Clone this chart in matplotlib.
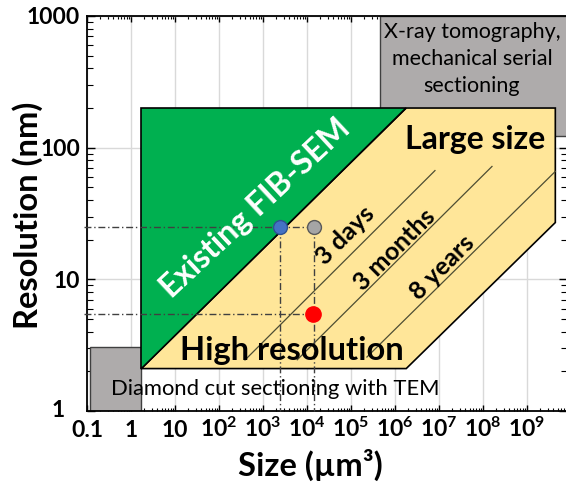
import numpy as np
import matplotlib
matplotlib.use("Agg")
import matplotlib.pyplot as plt
from matplotlib.patches import Polygon, Rectangle
from matplotlib.ticker import LogLocator, NullFormatter
from matplotlib.transforms import ScaledTranslation

plt.rcParams["font.family"] = ["Lato", "DejaVu Sans"]
plt.rcParams["mathtext.fontset"] = "custom"
plt.rcParams["mathtext.rm"] = "Lato:bold"
plt.rcParams["mathtext.it"] = "Lato:bold"
plt.rcParams["mathtext.bf"] = "Lato:bold"

# axes
x_ticks = [1e-1, 1, 1e1, 1e2, 1e3, 1e4, 1e5, 1e6, 1e7, 1e8, 1e9]
x_tick_labels = ["0.1", "1", "10"] + [r"$10^{%d}$" % p for p in range(2, 10)]
y_ticks = [1, 10, 100, 1000]
y_tick_labels = ["1", "10", "100", "1000"]

# regions: size (um3) / resolution (nm)
fib_x = [1.7, 1.7, 1.8e6]
fib_y = [2.1, 200, 200]
target_x = [1.7, 1.8e6, 4.4e9, 4.4e9, 1.8e6]
target_y = [2.1, 200, 200, 27, 2.1]
xray_x = [4.6e5, 1e10]
xray_y = [123, 1000]
tem_x = [0.12, 1.7]
tem_y = [1, 3.06]

# constant acquisition time lines
time_labels = ["3 days", "3 months", "8 years"]
time_x0 = [390, 6000, 2.3e5]
time_y0 = [2.44, 2.45, 2.57]
time_x1 = [8.1e6, 1.6e8, 4.4e9]
time_y1 = [67, 72, 66]
time_lx = [7.3e4, 1.0e6, 1.2e7]
time_ly = [21.7, 16.7, 12.4]

# example acquisitions
pt_x = [2430, 14400, 14000]
pt_y = [25, 25, 5.5]
pt_face = ["#4472C4", "#A5A5A5", "#FF0000"]
pt_edge = ["#2F528F", "#595959", "#FF0000"]
pt_size = [10, 10, 11]

fig = plt.figure(figsize=(5.66, 4.86), dpi=100)
ax = fig.add_axes([87 / 566, 75 / 486, 480 / 566, 395 / 486])
ax.set_xscale("log")
ax.set_yscale("log")
ax.set_xlim(0.1, 10 ** 9.909)
ax.set_ylim(1, 1000)
ax.set_axisbelow(True)
ax.grid(True, which="major", color="#D9D9D9", lw=1)

ax.add_patch(Rectangle((xray_x[0], xray_y[0]), xray_x[1] - xray_x[0],
                       xray_y[1] - xray_y[0], fc="#AEABAB", ec="#404040",
                       lw=1, zorder=1.5, clip_on=False))
ax.add_patch(Rectangle((tem_x[0], tem_y[0]), tem_x[1] - tem_x[0],
                       tem_y[1] - tem_y[0], fc="#AEABAB", ec="#404040",
                       lw=1, zorder=1.5))
ax.add_patch(Polygon(list(zip(target_x, target_y)), closed=True,
                     fc="#FFE699", ec="black", lw=1.2, zorder=2))
ax.add_patch(Polygon(list(zip(fib_x, fib_y)), closed=True,
                     fc="#00B050", ec="black", lw=1.2, zorder=2))

for x0, y0, x1, y1 in zip(time_x0, time_y0, time_x1, time_y1):
    ax.plot([x0, x1], [y0, y1], color="#4D4D33", lw=0.9, zorder=3)

dash = dict(color="#404040", lw=1, ls=(0, (5, 2, 1, 2)), zorder=4, clip_on=False)
ax.plot([0.085, pt_x[1]], [pt_y[1], pt_y[1]], **dash)
ax.plot([0.085, pt_x[2]], [pt_y[2], pt_y[2]], **dash)
ax.plot([pt_x[0], pt_x[0]], [pt_y[0], 1], **dash)
ax.plot([pt_x[1], pt_x[1]], [pt_y[1], 1], **dash)

for x, y, fc, ec, ms in zip(pt_x, pt_y, pt_face, pt_edge, pt_size):
    ax.plot(x, y, "o", ms=ms, mfc=fc, mec=ec, mew=1, zorder=5)

ax.text(658, 34.8, "Existing FIB-SEM", color="white", fontsize=23,
        fontweight="bold", rotation=43, ha="center", va="center", zorder=6)
ax.text(6.6e7, 116, "Large size", fontsize=23, fontweight="bold",
        ha="center", va="center", zorder=6)
ax.text(4600, 2.9, "High resolution", fontsize=23.5, fontweight="bold",
        ha="center", va="center", zorder=6)
for lab, x, y in zip(time_labels, time_lx, time_ly):
    ax.text(x, y, lab, fontsize=18, fontweight="bold", rotation=45,
            ha="center", va="center", zorder=6)
ax.text(5.6e7, 470, "X-ray tomography,\nmechanical serial\nsectioning",
        fontsize=15.5, ha="center", va="center", linespacing=1.45, zorder=6)
ax.text(1860, 1.47, "Diamond cut sectioning with TEM", fontsize=15.8,
        ha="center", va="center", zorder=6)

ax.set_xticks(x_ticks, x_tick_labels, fontsize=16.5, fontweight="bold", va="baseline")
ax.set_yticks(y_ticks, y_tick_labels, fontsize=16.5, fontweight="bold")
ax.xaxis.set_minor_locator(LogLocator(base=10, subs=np.arange(2, 10), numticks=100))
ax.yaxis.set_minor_locator(LogLocator(base=10, subs=np.arange(2, 10), numticks=100))
ax.xaxis.set_minor_formatter(NullFormatter())
ax.yaxis.set_minor_formatter(NullFormatter())
ax.tick_params(axis="x", which="both", direction="in", top=True, pad=18.7)
ax.tick_params(axis="x", which="major", length=4.5, width=1)
ax.tick_params(axis="x", which="minor", length=2.5, width=0.8)
ax.tick_params(axis="y", which="both", direction="in", right=True, pad=5)
ax.tick_params(axis="y", which="major", length=6, width=1)
ax.tick_params(axis="y", which="minor", length=4.5, width=0.8)
for s in ax.spines.values():
    s.set_linewidth(1.3)

# the "1" label sits further left, clear of "0.1"
lab1 = ax.yaxis.get_major_ticks()[0].label1
lab1.set_transform(lab1.get_transform() + ScaledTranslation(-0.15, 0.03, fig.dpi_scale_trans))

ax.set_xlabel("Size (µm³)", fontsize=23.5, fontweight="bold", va="baseline")
ax.xaxis.set_label_coords((310 - 87) / 480, (411 - 476) / 395)
ax.set_ylabel("Resolution (nm)", fontsize=23.5, fontweight="bold", va="center")
ax.yaxis.set_label_coords((28 - 87) / 480, (411 - 215) / 395)

fig.savefig("out.png", dpi=100)
